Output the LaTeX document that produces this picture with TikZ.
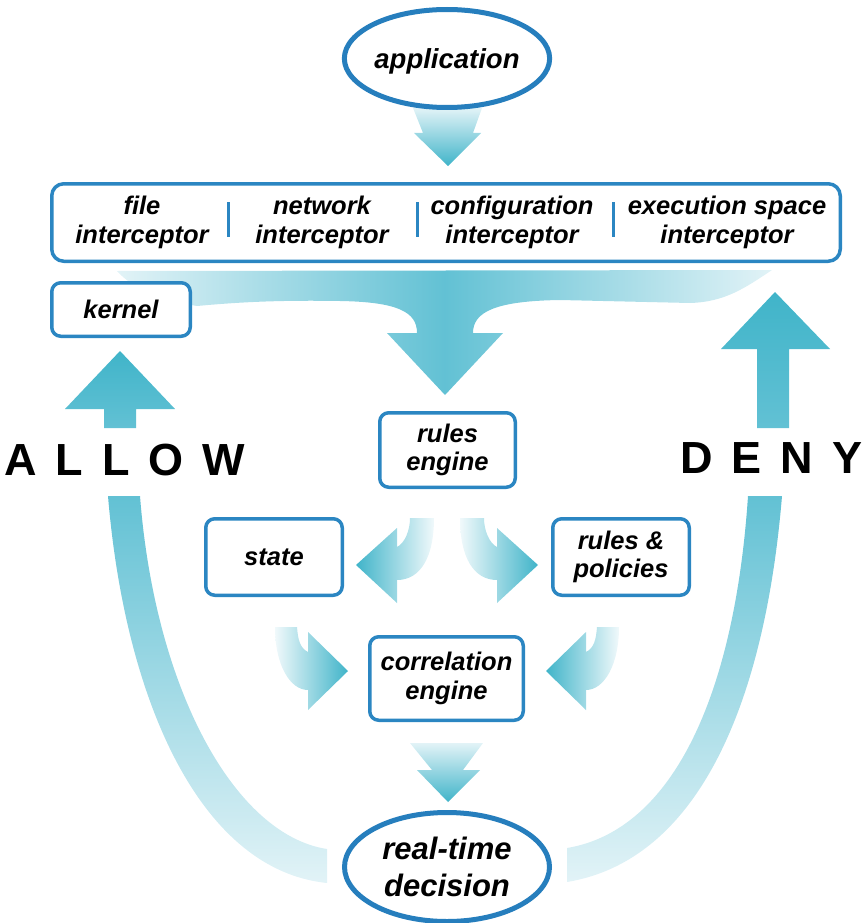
\documentclass[tikz,border=0pt]{standalone}
\usepackage{fontspec}
\setmainfont{Liberation Sans}
\usetikzlibrary{shapes.geometric}

\definecolor{boxblue}{RGB}{43,134,194}
\definecolor{ringblue}{RGB}{38,126,189}
\definecolor{flowteal}{RGB}{64,180,201}
\definecolor{flowmid}{RGB}{98,193,212}
\definecolor{flowpale}{RGB}{226,243,247}

\newcommand\labelfont{\fontsize{25.5}{28.5}\selectfont\bfseries\itshape}
\newcommand\ringfont{\fontsize{27.5}{30}\selectfont\bfseries\itshape}
\newcommand\decisionfont{\fontsize{31}{37}\selectfont\bfseries\itshape}
\newcommand\verdictfont{\fontsize{45}{50}\selectfont\bfseries}

\tikzset{
  box/.style={draw=boxblue, line width=3.5pt, rounded corners=9pt, fill=white,
              inner sep=0pt, align=center, font=\labelfont},
  ring/.style={ellipse, draw=ringblue, line width=5pt, fill=white,
               inner sep=0pt, align=center},
  lbl/.style={inner sep=0pt, align=center, font=\labelfont},
  divider/.style={draw=boxblue, line width=3pt},
  verdict/.style={inner sep=0pt, anchor=base west, font=\verdictfont},
}

\begin{document}
\begin{tikzpicture}[x=1pt,y=-1pt]
\useasboundingbox (0,0) rectangle (866,923);

% broad flow from the interceptors down into the rules engine
\shade[left color=flowpale, right color=flowpale, middle color=flowmid]
  (117,271) -- (772,270)
  .. controls (745,288) and (725,302) .. (690,303)
  -- (560,300)
  .. controls (495,301) and (473,312) .. (473,333)
  -- (503,333) -- (445,395) -- (387,333) -- (417,333)
  .. controls (417,312) and (398,302) .. (340,301)
  .. controls (280,300) and (240,302) .. (197,306)
  .. controls (160,300) and (132,288) .. (117,271) -- cycle;

% application -> interceptors
\shade[top color=flowpale, bottom color=flowteal]
  (413,108) -- (482,108) -- (473,133) -- (481,133) -- (448,166)
  -- (414,133) -- (423,133) -- cycle;

% correlation engine -> decision
\shade[top color=flowpale, bottom color=flowteal]
  (410,743) -- (483,743) -- (463,770) -- (480,770) -- (448,802)
  -- (417,770) -- (432,770) -- cycle;

% rules engine -> state
\shade[left color=flowteal, right color=flowpale!50!white]
  (410,518) -- (434,518)
  .. controls (434,558) and (420,580) .. (397,580)
  -- (397,603) -- (356,565) -- (397,528) -- (397,547)
  .. controls (405,543) and (410,530) .. (410,518) -- cycle;

% rules engine -> rules & policies
\shade[left color=flowpale!50!white, right color=flowteal]
  (484,518) -- (460,518)
  .. controls (460,558) and (474,580) .. (497,580)
  -- (497,603) -- (538,565) -- (497,528) -- (497,547)
  .. controls (489,543) and (484,530) .. (484,518) -- cycle;

% state -> correlation engine
\shade[left color=flowpale!50!white, right color=flowteal]
  (275,627) .. controls (275,665) and (290,690) .. (308,690)
  -- (308,710) -- (348,671) -- (308,632) -- (308,652)
  .. controls (300,648) and (298,640) .. (297,627) -- cycle;

% rules & policies -> correlation engine
\shade[left color=flowteal, right color=flowpale!50!white]
  (619,627) .. controls (619,665) and (604,690) .. (586,690)
  -- (586,710) -- (546,671) -- (586,632) -- (586,652)
  .. controls (594,648) and (596,640) .. (597,627) -- cycle;

% ALLOW return path
\shade[top color=flowmid, bottom color=flowpale]
  (108,496) -- (140,496)
  .. controls (155,690) and (235,835) .. (327,849)
  -- (327,883)
  .. controls (200,870) and (125,700) .. (108,496) -- cycle;
\shade[top color=flowteal, bottom color=flowmid]
  (120,351) -- (175,409) -- (136,409) -- (136,428) -- (104,428)
  -- (104,409) -- (65,409) -- cycle;

% DENY return path
\shade[top color=flowmid, bottom color=flowpale]
  (748,496) -- (782,496)
  .. controls (765,700) and (700,860) .. (567,882)
  -- (567,848)
  .. controls (675,830) and (735,690) .. (748,496) -- cycle;
\shade[top color=flowteal, bottom color=flowmid]
  (775,292) -- (830,349) -- (789,349) -- (789,428) -- (757,428)
  -- (757,349) -- (721,349) -- cycle;

% nodes
\node[ring, minimum width=191pt, minimum height=98pt, font=\ringfont,
      text depth=0pt] (app) at (447,58.5) {application};

\node[box, rounded corners=12pt, minimum width=788.5pt, minimum height=77.5pt]
  (intercept) at (446,222.5) {};
\node[lbl] (file)   at (142,222.5) {file\\interceptor};
\node[lbl] (net)    at (322,222.5) {network\\interceptor};
\node[lbl] (config) at (512,222.5) {configuration\\interceptor};
\node[lbl] (exec)   at (727,222.5) {execution space\\interceptor};
\coordinate (d1t) at (228,202); \coordinate (d1b) at (228,237);
\coordinate (d2t) at (417,202); \coordinate (d2b) at (417,237);
\coordinate (d3t) at (613,202); \coordinate (d3b) at (613,237);
\draw[divider] (d1t) -- (d1b);
\draw[divider] (d2t) -- (d2b);
\draw[divider] (d3t) -- (d3b);

\node[box, minimum width=138.5pt, minimum height=53.5pt] (kernel) at (121,309.5) {kernel};
\node[box, minimum width=135.5pt, minimum height=74.5pt] (rules) at (447.5,450) {rules\\engine};
\node[box, minimum width=136.5pt, minimum height=76.5pt] (state) at (274,557) {state};
\node[box, minimum width=136.5pt, minimum height=76.5pt] (policies) at (621,557) {rules \&\\policies};
\node[box, minimum width=153.5pt, minimum height=83.5pt] (corr) at (446.5,678.5) {correlation\\engine};

\node[ring, minimum width=205pt, minimum height=109pt, font=\decisionfont]
  (decision) at (447,867) {real-time\\decision};

\node[verdict] (allow) at (4,475)
  {A\hspace{19pt}L\hspace{19pt}L\hspace{19pt}O\hspace{19pt}W};
\node[verdict] (deny) at (680,473)
  {D\hspace{19pt}E\hspace{19pt}N\hspace{19pt}Y};
\end{tikzpicture}
\end{document}
